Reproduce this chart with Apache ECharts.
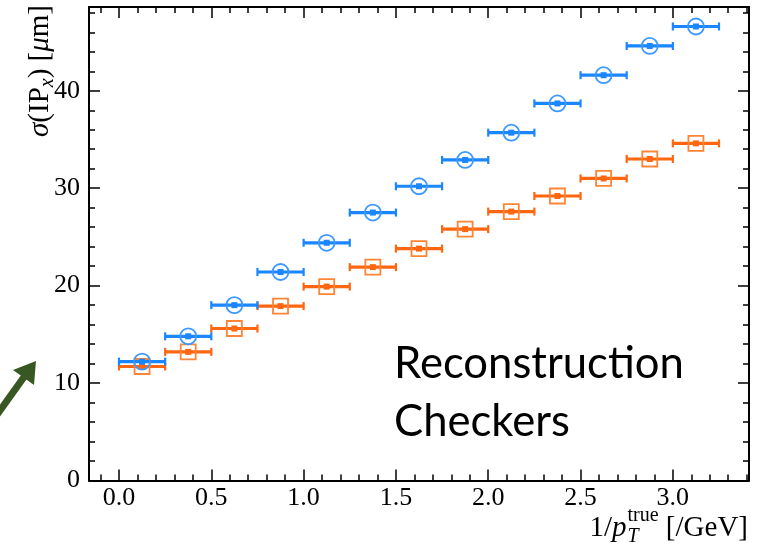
<!DOCTYPE html>
<html>
<head>
<meta charset="utf-8">
<script src="https://cdn.jsdelivr.net/npm/echarts@6/dist/echarts.min.js"></script>
<style>
html,body{margin:0;padding:0;background:#fff;}
#chart{width:768px;height:549px;}
</style>
</head>
<body>
<div id="chart"></div>
<script>
// ---------- data ----------
const xCenters = [0.125, 0.375, 0.625, 0.875, 1.125, 1.375, 1.625, 1.875, 2.125, 2.375, 2.625, 2.875, 3.125];
const xHalfWidth = 0.125; // horizontal error (bin half-width)
const blueSigma   = [12.2, 14.8, 18.0, 21.4, 24.4, 27.5, 30.2, 32.9, 35.7, 38.7, 41.6, 44.6, 46.6];
const orangeSigma = [11.7, 13.2, 15.6, 17.9, 19.9, 21.9, 23.8, 25.8, 27.6, 29.2, 31.0, 33.0, 34.6];
const xTickValues = [0, 0.5, 1.0, 1.5, 2.0, 2.5, 3.0];
const xTickLabels = ['0.0', '0.5', '1.0', '1.5', '2.0', '2.5', '3.0'];
const yTickValues = [0, 10, 20, 30, 40];
const yTickLabels = ['0', '10', '20', '30', '40'];

// ---------- styling / layout ----------
const X_MIN = -0.1625, X_MAX = 3.4125, Y_MIN = 0, Y_MAX = 48.6;
const BLUE = '#1a86ff', BLUE_LIGHT = '#3d99ff';
const ORANGE = '#ff6610', ORANGE_LIGHT = '#ff8536';
const SERIF = 'Liberation Serif';
const LABEL_SIZE = 26;

const xMinor = [], yMinor = [];
for (let k = -1; k <= 34; k++) { if (k % 5 !== 0) xMinor.push(k / 10); }
for (let k = 1; k <= 24; k++) { if (k % 5 !== 0) yMinor.push(k * 2); }

const tickStyle = { color: '#000', width: 1.5 };
function xAxisDef(pos, values, len, showLine, showLabels) {
  return {
    type: 'value', position: pos, min: X_MIN, max: X_MAX,
    axisLine: { show: showLine, onZero: false, lineStyle: { color: '#000', width: 2 } },
    axisTick: { show: true, inside: true, length: len, customValues: values, lineStyle: tickStyle },
    axisLabel: showLabels ? {
      show: true, customValues: xTickValues, margin: 5,
      fontFamily: SERIF, fontSize: LABEL_SIZE, color: '#000',
      formatter: v => { const i = xTickValues.findIndex(t => Math.abs(t - v) < 1e-9); return i >= 0 ? xTickLabels[i] : ''; }
    } : { show: false },
    splitLine: { show: false }
  };
}
function yAxisDef(pos, values, len, showLine, showLabels) {
  return {
    type: 'value', position: pos, min: Y_MIN, max: Y_MAX,
    axisLine: { show: showLine, onZero: false, lineStyle: { color: '#000', width: 2 } },
    axisTick: { show: true, inside: true, length: len, customValues: values, lineStyle: tickStyle },
    axisLabel: showLabels ? {
      show: true, customValues: yTickValues, margin: 9,
      fontFamily: SERIF, fontSize: LABEL_SIZE, color: '#000',
      formatter: v => { const i = yTickValues.findIndex(t => Math.abs(t - v) < 1e-9); return i >= 0 ? yTickLabels[i] : ''; }
    } : { show: false },
    splitLine: { show: false }
  };
}

function makeRender(lineColor, markColor, shape) {
  return function (params, api) {
    const x = api.value(0), y = api.value(1);
    const a = api.coord([x - xHalfWidth, y]);
    const b = api.coord([x + xHalfWidth, y]);
    const c = api.coord([x, y]);
    const children = [
      { type: 'line', shape: { x1: a[0], y1: a[1], x2: b[0], y2: b[1] }, style: { stroke: lineColor, lineWidth: 3.2 } },
      { type: 'line', shape: { x1: a[0], y1: a[1] - 4, x2: a[0], y2: a[1] + 4 }, style: { stroke: lineColor, lineWidth: 2.2 } },
      { type: 'line', shape: { x1: b[0], y1: b[1] - 4, x2: b[0], y2: b[1] + 4 }, style: { stroke: lineColor, lineWidth: 2.2 } },
      { type: 'rect', shape: { x: c[0] - 3, y: c[1] - 3, width: 6, height: 6 }, style: { fill: lineColor } }
    ];
    if (shape === 'circle') {
      children.push({ type: 'circle', shape: { cx: c[0], cy: c[1], r: 8 }, style: { fill: 'none', stroke: markColor, lineWidth: 1.8 } });
    } else {
      children.push({ type: 'rect', shape: { x: c[0] - 7.5, y: c[1] - 7.5, width: 15, height: 15 }, style: { fill: 'none', stroke: markColor, lineWidth: 1.8 } });
    }
    return { type: 'group', children };
  };
}

// ---------- text measuring for label layout ----------
const mctx = document.createElement('canvas').getContext('2d');
function tw(text, font) { mctx.font = font; return mctx.measureText(text).width; }

const graphics = [];

// x-axis name: 1/p_T^true [/GeV], right-aligned at 748
(function () {
  const fs = 29, small = 20;
  const fN = fs + 'px "' + SERIF + '"', fI = 'italic ' + fs + 'px "' + SERIF + '"';
  const fS = small + 'px "' + SERIF + '"', fSI = 'italic ' + small + 'px "' + SERIF + '"';
  const wA = tw('1/', fN), wB = tw('p', fI), wS = tw('true', fS), wT = tw('T', fSI), wC = tw(' [/GeV]', fN);
  const total = wA + wB + 1 + Math.max(wS, wT) + wC;
  let x = 748 - total; const yc = 528;
  graphics.push({ type: 'text', x: x, y: yc, style: { text: '1/', font: fN, fill: '#000', verticalAlign: 'middle' } });
  x += wA;
  graphics.push({ type: 'text', x: x, y: yc, style: { text: 'p', font: fI, fill: '#000', verticalAlign: 'middle' } });
  x += wB + 1;
  graphics.push({ type: 'text', x: x, y: yc - 12, style: { text: 'true', font: fS, fill: '#000', verticalAlign: 'middle' } });
  graphics.push({ type: 'text', x: x, y: yc + 9, style: { text: 'T', font: fSI, fill: '#000', verticalAlign: 'middle' } });
  x += Math.max(wS, wT);
  graphics.push({ type: 'text', x: x, y: yc, style: { text: ' [/GeV]', font: fN, fill: '#000', verticalAlign: 'middle' } });
})();

// y-axis name: σ(IP_x) [μm], rotated, reading bottom to top, ending near top
(function () {
  const fs = 29, small = 20;
  const fN = fs + 'px "' + SERIF + '"', fI = 'italic ' + fs + 'px "' + SERIF + '"';
  const fSI = 'italic ' + small + 'px "' + SERIF + '"';
  const parts = [
    ['σ', fI, 0], ['(IP', fN, 0], ['x', fSI, 8], [') [', fN, 0], ['μ', fI, 0], ['m]', fN, 0]
  ];
  let total = 0; parts.forEach(p => { total += tw(p[0], p[1]); });
  const children = []; let x = 0;
  parts.forEach(p => {
    children.push({ type: 'text', x: x, y: p[2], style: { text: p[0], font: p[1], fill: '#000', verticalAlign: 'middle' } });
    x += tw(p[0], p[1]);
  });
  graphics.push({ type: 'group', x: 40, y: 5 + total, rotation: Math.PI / 2, children });
})();

// annotation text
(function () {
  const fam = 'Lato';
  const fsFit = 40 * 290 / tw('Reconstruction', '40px "' + fam + '"');
  const f = fsFit + 'px "' + fam + '"';
  graphics.push({ type: 'text', x: 394, y: 364, style: { text: 'Reconstruction', font: f, fill: '#000', verticalAlign: 'middle' } });
  graphics.push({ type: 'text', x: 394, y: 422, style: { text: 'Checkers', font: f, fill: '#000', verticalAlign: 'middle' } });
})();

// green arrow
graphics.push({ type: 'line', shape: { x1: -6, y1: 419, x2: 24, y2: 377 }, style: { stroke: '#385723', lineWidth: 7 } });
graphics.push({ type: 'polygon', shape: { points: [[36, 361], [34, 385], [13, 370]] }, style: { fill: '#385723' } });

const chart = echarts.init(document.getElementById('chart'), null, { renderer: 'canvas' });
chart.setOption({
  animation: false,
  backgroundColor: '#fff',
  grid: { left: 89, top: 7, width: 660, height: 473.5, containLabel: false },
  xAxis: [
    xAxisDef('bottom', xTickValues, 11, true, true),
    xAxisDef('bottom', xMinor, 6, false, false),
    xAxisDef('top', xTickValues, 11, true, false),
    xAxisDef('top', xMinor, 6, false, false)
  ],
  yAxis: [
    yAxisDef('left', yTickValues, 11, true, true),
    yAxisDef('left', yMinor, 6, false, false),
    yAxisDef('right', yTickValues, 11, true, false),
    yAxisDef('right', yMinor, 6, false, false)
  ],
  series: [
    {
      type: 'custom', name: 'orange', xAxisIndex: 0, yAxisIndex: 0,
      data: xCenters.map((x, i) => [x, orangeSigma[i]]),
      renderItem: makeRender(ORANGE, ORANGE_LIGHT, 'square'), z: 2
    },
    {
      type: 'custom', name: 'blue', xAxisIndex: 0, yAxisIndex: 0,
      data: xCenters.map((x, i) => [x, blueSigma[i]]),
      renderItem: makeRender(BLUE, BLUE_LIGHT, 'circle'), z: 3
    }
  ],
  graphic: graphics
});
</script>
</body>
</html>
